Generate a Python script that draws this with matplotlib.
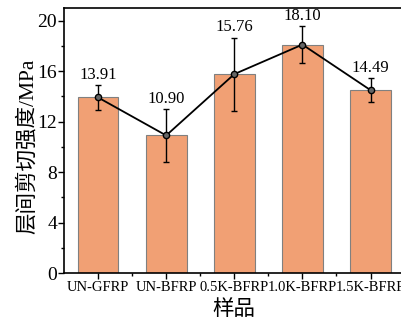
import matplotlib
matplotlib.use('Agg')
import matplotlib.pyplot as plt
import numpy as np
from matplotlib.ticker import MultipleLocator, FixedLocator

plt.rcParams['font.family'] = ['Liberation Serif', 'Noto Sans CJK SC', 'DejaVu Sans']
plt.rcParams['axes.unicode_minus'] = False

samples = ['UN-GFRP', 'UN-BFRP', '0.5K-BFRP', '1.0K-BFRP', '1.5K-BFRP']
strength = [13.91, 10.90, 15.76, 18.10, 14.49]
errors = [1.0, 2.08, 2.9, 1.45, 0.95]
labels = ['13.91', '10.90', '15.76', '18.10', '14.49']

fig = plt.figure(figsize=(4.01, 3.25), dpi=100)
ax = fig.add_axes([0.1596, 0.16, 0.8494, 0.8154])

x = np.arange(len(samples))
ax.bar(x, strength, width=0.6, color='#F1A074', edgecolor='#808080', linewidth=0.8, zorder=1)
ax.errorbar(x, strength, yerr=errors, color='black', linewidth=1.3,
            ecolor='black', elinewidth=1.0, capsize=2.5, capthick=1.0,
            marker='o', markersize=4.5, markerfacecolor='#666666',
            markeredgecolor='black', markeredgewidth=1.0, zorder=3)

for xi, yi, ei, lab in zip(x, strength, errors, labels):
    ax.annotate(lab, (xi, yi + ei), xytext=(0, 1.5), textcoords='offset points',
                ha='center', va='bottom', fontsize=12)

ax.set_xlim(-0.5, 4.5)
ax.set_ylim(0, 21)
ax.set_xticks(x)
ax.set_xticklabels(samples, fontsize=10.5)
ax.xaxis.set_minor_locator(FixedLocator(x[:-1] + 0.5))
ax.yaxis.set_major_locator(MultipleLocator(4))
ax.yaxis.set_minor_locator(MultipleLocator(2))
ax.tick_params(axis='y', which='major', labelsize=14, direction='out', length=4, width=1.0, pad=1)
ax.tick_params(axis='x', which='major', direction='out', length=4, width=1.0, pad=2)
ax.tick_params(which='minor', direction='out', length=2.5, width=1.0)

for s in ax.spines.values():
    s.set_linewidth(1.2)

ax.set_ylabel('层间剪切强度/MPa', fontsize=15.5)
ax.yaxis.set_label_coords(-0.075, 0.477)
ax.set_xlabel('样品', fontsize=15.5, labelpad=4)

fig.savefig('out.png', dpi=100)
